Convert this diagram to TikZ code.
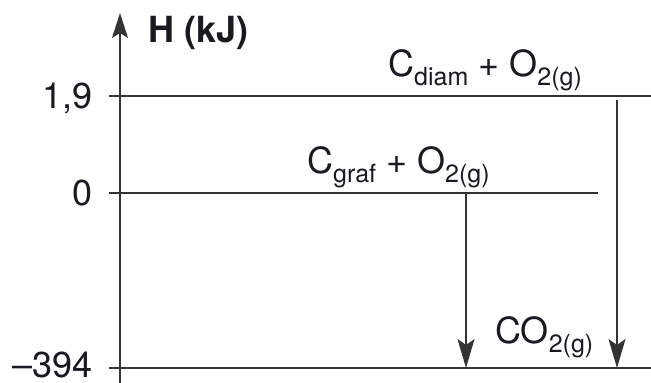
\documentclass[tikz,border=0pt]{standalone}
\usepackage{fontspec}
\setmainfont{TeX Gyre Heros}
\usetikzlibrary{arrows.meta}
\definecolor{linegray}{rgb}{0.2,0.2,0.2}
\definecolor{textblack}{rgb}{0.1,0.1,0.12}
\newcommand\sbs[1]{\raisebox{-9pt}{\fontsize{25}{25}\selectfont #1}}
\tikzset{
  lvl/.style={draw=linegray, line width=1.5pt},
  axisline/.style={draw=linegray, line width=1.5pt, -{Stealth[length=25pt,width=16pt,inset=5pt]}},
  react/.style={draw=linegray, line width=1.5pt, -{Stealth[length=29pt,width=17pt,inset=6pt]}},
  lbl/.style={inner sep=0pt, anchor=base west, text=textblack, font=\fontsize{36}{40}\selectfont},
  val/.style={inner sep=0pt, anchor=base east, text=textblack, font=\fontsize{36}{40}\selectfont},
}
\begin{document}
\begin{tikzpicture}[x=1pt, y=-1pt]
\useasboundingbox (0,0) rectangle (651,383);
% axis
\coordinate (axb) at (120,383);
\coordinate (axt) at (120,13);
\draw[axisline] (axb) -- (axt);
\node[lbl, font=\fontsize{36}{40}\selectfont\bfseries] (hlab) at (148,42) {H (kJ)};
% level lines
\coordinate (l1a) at (109,96);  \coordinate (l1b) at (651,96);
\coordinate (l0a) at (109,193); \coordinate (l0b) at (598,193);
\coordinate (lba) at (109,368); \coordinate (lbb) at (651,368);
\draw[lvl] (l1a) -- (l1b);
\draw[lvl] (l0a) -- (l0b);
\draw[lvl] (lba) -- (lbb);
% values
\node[val] (v1) at (93,108) {1,9};
\node[val] (v0) at (93,205) {0};
\node[val] (vb) at (93,377) {–394};
% species labels
\node[lbl] (diam) at (388,76) {C\sbs{diam} + O\sbs{2(g)}};
\node[lbl] (graf) at (307,173) {C\sbs{graf} + O\sbs{2(g)}};
\node[lbl] (co2) at (495,343) {CO\sbs{2(g)}};
% reaction arrows
\coordinate (ga) at (466,193); \coordinate (gb) at (466,368);
\coordinate (da) at (617,100); \coordinate (db) at (617,368);
\draw[react] (ga) -- (gb);
\draw[react] (da) -- (db);
\end{tikzpicture}
\end{document}
